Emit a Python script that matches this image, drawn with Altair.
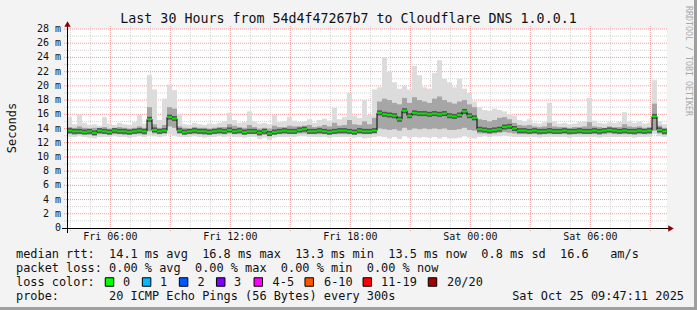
import altair as alt
import pandas as pd

# ---------------- data ----------------
title_text = "Last 30 Hours from 54d4f47267b7 to Cloudflare DNS 1.0.0.1"
x_tick_labels = ["Fri 06:00", "Fri 12:00", "Fri 18:00", "Sat 00:00", "Sat 06:00"]
y_tick_values = [0, 2, 4, 6, 8, 10, 12, 14, 16, 18, 20, 22, 24, 26, 28]

# median rtt per 15-minute bin (ms), 120 bins over 30 hours
median_ms = [
    13.7, 13.6, 13.6, 13.5, 13.6, 13.4, 13.7, 13.6, 13.5, 13.7, 13.6, 13.6, 13.5, 13.6, 13.7, 13.6,
    15.3, 13.8, 13.6, 13.7, 15.6, 15.4, 13.7,
    13.5, 13.6, 13.7, 13.6, 13.6, 13.5, 13.6, 13.7, 13.6, 13.8,
    13.6, 13.7, 13.5, 13.6, 13.6, 13.4, 13.6, 13.3, 13.5, 13.6,
    13.7, 13.6, 13.6, 13.8, 13.9, 13.6, 13.6, 13.7, 13.6, 13.5,
    13.6, 13.7, 13.7, 13.6, 13.5, 13.7, 13.6, 13.6, 13.7,
    16.2, 16.0, 15.9, 15.8, 15.3, 16.5, 15.8, 16.2, 16.1, 16.1,
    16.0, 16.1, 16.0, 16.1, 15.8, 15.7, 15.9, 16.4, 15.8, 15.5,
    13.9, 13.8, 13.7, 13.8, 13.9, 14.2, 14.3, 14.0, 13.7, 13.7,
    13.6, 13.7, 13.6, 13.6, 13.7, 13.6, 13.6, 13.7, 13.6, 13.6,
    13.7, 13.6, 13.6, 13.7, 13.6, 13.7, 13.8, 13.7, 13.6, 13.7,
    13.6, 13.6, 13.7, 13.6, 13.7, 15.7, 13.8, 13.6,
]
smoke_hi = [
    15.6, 14.6, 16.0, 14.8, 14.5, 14.6, 14.4, 15.6, 14.7, 14.5, 14.8, 14.6, 14.5, 14.9, 15.9, 14.7,
    21.5, 19.5, 15.2, 18.2, 20.2, 19.4, 16.0,
    14.6, 14.5, 14.8, 14.6, 14.5, 14.7, 14.6, 14.8, 15.0, 16.2,
    15.2, 14.8, 14.9, 16.4, 15.0, 14.7, 14.8, 14.6, 15.9, 14.9,
    15.0, 15.6, 15.1, 14.9, 15.0, 15.3, 14.8, 15.2, 15.4, 15.1,
    16.9, 15.3, 15.6, 19.0, 15.8, 15.5, 18.0, 15.9, 19.5,
    19.8, 24.0, 22.0, 20.5, 19.6, 20.0, 19.5, 22.8, 21.5, 19.8,
    19.6, 21.8, 23.6, 21.0, 20.5, 19.8, 21.0, 19.6, 19.0, 17.8,
    17.0, 16.6, 16.5, 16.8, 16.6, 16.4, 16.0, 15.8, 15.2, 15.0,
    15.3, 14.8, 14.7, 14.9, 17.6, 15.0, 14.7, 14.8, 14.6, 14.7,
    14.9, 15.0, 18.3, 15.1, 14.8, 14.7, 14.9, 14.8, 14.9, 16.3,
    15.0, 14.8, 15.0, 14.7, 14.8, 20.8, 15.0, 14.6,
]
smoke_q3 = [
    14.2, 14.1, 14.3, 14.1, 14.0, 14.1, 14.1, 14.2, 14.0, 14.1, 14.2, 14.1, 14.0, 14.1, 14.3, 14.1,
    17.0, 14.6, 14.1, 14.5, 17.0, 16.8, 14.3,
    14.1, 14.0, 14.2, 14.1, 14.1, 14.0, 14.1, 14.2, 14.2, 14.6,
    14.4, 14.2, 14.1, 14.5, 14.2, 14.0, 14.1, 14.0, 14.4, 14.2,
    14.2, 14.4, 14.3, 14.3, 14.4, 14.5, 14.2, 14.3, 14.5, 14.3,
    14.8, 14.4, 14.5, 15.2, 14.6, 14.5, 15.0, 14.6, 15.5,
    17.8, 18.2, 18.0, 17.6, 17.4, 18.3, 17.6, 18.4, 18.0, 17.8,
    17.6, 18.2, 18.5, 18.0, 17.7, 17.5, 17.8, 18.0, 17.4, 17.0,
    15.3, 15.2, 15.0, 15.2, 15.5, 15.6, 15.3, 14.8, 14.5, 14.4,
    14.5, 14.3, 14.2, 14.3, 14.8, 14.3, 14.2, 14.2, 14.1, 14.2,
    14.2, 14.3, 14.9, 14.3, 14.2, 14.1, 14.3, 14.2, 14.2, 14.6,
    14.3, 14.2, 14.3, 14.1, 14.2, 17.5, 14.4, 14.1,
]
smoke_q1 = [
    13.2, 13.1, 13.2, 13.2, 13.1, 13.0, 13.2, 13.2, 13.1, 13.2, 13.2, 13.1, 13.1, 13.2, 13.2, 13.1,
    13.6, 13.3, 13.2, 13.3, 14.3, 14.1, 13.3,
    13.1, 13.2, 13.2, 13.2, 13.1, 13.1, 13.2, 13.2, 13.2, 13.3,
    13.2, 13.2, 13.1, 13.2, 13.2, 13.0, 13.1, 12.9, 13.1, 13.2,
    13.2, 13.2, 13.2, 13.3, 13.3, 13.2, 13.2, 13.2, 13.2, 13.1,
    13.2, 13.2, 13.2, 13.2, 13.1, 13.2, 13.2, 13.2, 13.3,
    14.0, 13.9, 13.8, 13.9, 13.7, 14.1, 13.8, 14.0, 13.9, 14.0,
    13.9, 14.0, 13.9, 14.0, 13.8, 13.8, 13.9, 14.1, 13.8, 13.7,
    13.3, 13.3, 13.2, 13.3, 13.4, 13.5, 13.4, 13.3, 13.2, 13.2,
    13.2, 13.2, 13.1, 13.2, 13.2, 13.2, 13.2, 13.2, 13.1, 13.2,
    13.2, 13.2, 13.2, 13.2, 13.1, 13.2, 13.3, 13.2, 13.2, 13.2,
    13.2, 13.1, 13.2, 13.2, 13.2, 13.7, 13.3, 13.1,
]
smoke_lo = [
    12.8, 12.8, 12.9, 12.8, 12.7, 12.6, 12.8, 12.8, 12.8, 12.9, 12.8, 12.8, 12.7, 12.8, 12.9, 12.8,
    13.0, 12.9, 12.8, 12.9, 13.2, 13.0, 12.8,
    12.8, 12.8, 12.9, 12.8, 12.7, 12.8, 12.8, 12.9, 12.8, 12.9,
    12.8, 12.8, 12.7, 12.8, 12.8, 12.5, 12.7, 12.4, 12.7, 12.8,
    12.8, 12.8, 12.8, 12.9, 12.9, 12.8, 12.8, 12.8, 12.8, 12.7,
    12.8, 12.8, 12.8, 12.8, 12.7, 12.8, 12.6, 12.7, 12.8,
    12.9, 12.8, 12.6, 12.8, 12.5, 12.9, 12.7, 12.8, 12.7, 12.8,
    12.7, 12.8, 12.6, 12.8, 12.6, 12.6, 12.7, 12.9, 12.7, 12.6,
    12.8, 12.9, 12.8, 12.9, 12.9, 13.0, 12.9, 12.8, 12.8, 12.8,
    12.8, 12.8, 12.7, 12.8, 12.8, 12.8, 12.8, 12.8, 12.7, 12.8,
    12.8, 12.8, 12.8, 12.8, 12.7, 12.8, 12.8, 12.8, 12.8, 12.8,
    12.8, 12.7, 12.8, 12.8, 12.8, 13.2, 12.9, 12.8,
]

legend_line1 = "median rtt:  14.1 ms avg  16.8 ms max  13.3 ms min  13.5 ms now  0.8 ms sd  16.6   am/s"
legend_line2 = "packet loss: 0.00 % avg  0.00 % max  0.00 % min  0.00 % now"
legend_line3 = "loss color:"
legend_line4 = "probe:       20 ICMP Echo Pings (56 Bytes) every 300s"
timestamp_text = "Sat Oct 25 09:47:11 2025"
watermark_text = "RRDTOOL / TOBI OETIKER"
loss_labels = ["0", "1", "2", "3", "4-5", "6-10", "11-19", "20/20"]
loss_colors = ["#00ff00", "#00b8ff", "#0059ff", "#7e00ff", "#ff00ff", "#ff5500", "#ff0000", "#a10000"]

# ---------------- layout ----------------
W, H = 600, 199
MONO = "DejaVu Sans Mono"
BIN_H = 0.25                      # hours per bin
first_hour = 1.0 / 6.0            # 04:00 relative to the 03:50 start
minor_hours = [first_hour + k for k in range(30)]
major_hours = minor_hours[2::3]
label_hours = major_hours[0::2]
box_x = [42.5, 79.6, 116.6, 153.7, 191.3, 242.2, 300.3, 365.5]
lab_x = [56, 93, 130.5, 167, 205.6, 257, 314, 380]

def nb(s):
    return s.replace(" ", "\u00a0")

n = len(median_ms)
t0 = [i * BIN_H for i in range(n)]
df = pd.DataFrame({
    "t0": t0,
    "t1": [t + BIN_H for t in t0],
    "med": median_ms,
    "prev": [median_ms[0]] + median_ms[:-1],
    "hi": smoke_hi, "q3": smoke_q3, "q1": smoke_q1, "lo": smoke_lo,
})

xs = alt.Scale(domain=[0, 30], nice=False, zero=False)
ys = alt.Scale(domain=[0, 28], nice=False, zero=False)
one = pd.DataFrame({"k": [0]})

# grid
minor_v = [h for h in minor_hours if h not in major_hours]
g_minor_v = alt.Chart(pd.DataFrame({"h": minor_v})).mark_rule(
    color="#d2d2d2", strokeDash=[1, 1], strokeWidth=1).encode(
    x=alt.X("h:Q", scale=xs, axis=None), y=alt.value(-3), y2=alt.value(H + 3))
g_major_v = alt.Chart(pd.DataFrame({"h": major_hours})).mark_rule(
    color="#f29a9a", strokeDash=[1, 1], strokeWidth=1).encode(
    x=alt.X("h:Q", scale=xs, axis=None), y=alt.value(-3), y2=alt.value(H + 3))
g_minor_h = alt.Chart(pd.DataFrame({"v": [v + 1 for v in y_tick_values[:-1]]})).mark_rule(
    color="#d2d2d2", strokeDash=[1, 1], strokeWidth=1).encode(
    y=alt.Y("v:Q", scale=ys, axis=None), x=alt.value(-3), x2=alt.value(W + 1))
g_major_h = alt.Chart(pd.DataFrame({"v": y_tick_values[1:]})).mark_rule(
    color="#f29a9a", strokeDash=[1, 1], strokeWidth=1).encode(
    y=alt.Y("v:Q", scale=ys, axis=None), x=alt.value(-3), x2=alt.value(W + 1))

base = alt.Chart(df)
band_outer = base.mark_rect(color="#dcdcdc").encode(
    x=alt.X("t0:Q", scale=xs, axis=None), x2="t1:Q",
    y=alt.Y("lo:Q", scale=ys, axis=None), y2="hi:Q")
band_inner = base.mark_rect(color="#a6a6a6").encode(
    x=alt.X("t0:Q", scale=xs, axis=None), x2="t1:Q",
    y=alt.Y("q1:Q", scale=ys, axis=None), y2="q3:Q")
core = base.mark_rule(color="#555555", strokeWidth=5).encode(
    x=alt.X("t0:Q", scale=xs, axis=None), x2="t1:Q",
    y=alt.Y("med:Q", scale=ys, axis=None))
joins = base.mark_rule(color="#000000", strokeWidth=1).encode(
    x=alt.X("t0:Q", scale=xs, axis=None),
    y=alt.Y("prev:Q", scale=ys, axis=None), y2="med:Q")
green = base.mark_rule(color="#00e600", strokeWidth=2).encode(
    x=alt.X("t0:Q", scale=xs, axis=None), x2="t1:Q",
    y=alt.Y("med:Q", scale=ys, axis=None))

# axes
x_axis = alt.Chart(one).mark_rule(color="black", strokeWidth=1).encode(
    x=alt.value(-5), x2=alt.value(W + 2), y=alt.value(H + 0.5))
y_axis = alt.Chart(one).mark_rule(color="black", strokeWidth=1).encode(
    x=alt.value(0.5), y=alt.value(H + 5), y2=alt.value(-3))
x_arrow = alt.Chart(one).mark_point(shape="triangle-right", filled=True, size=40,
                                    color="#8b0000", opacity=1).encode(
    x=alt.value(W + 4), y=alt.value(H + 0.5))
y_arrow = alt.Chart(one).mark_point(shape="triangle-up", filled=True, size=40,
                                    color="#8b0000", opacity=1).encode(
    x=alt.value(0.5), y=alt.value(-5))

y_labels = alt.Chart(pd.DataFrame({
    "v": y_tick_values,
    "t": [("0\u00a0\u00a0" if v == 0 else f"{v}\u00a0m") for v in y_tick_values],
})).mark_text(font=MONO, fontSize=10, align="right", baseline="middle", color="#111111").encode(
    y=alt.Y("v:Q", scale=ys, axis=None), x=alt.value(-6), text="t:N")
x_labels = alt.Chart(pd.DataFrame({"h": label_hours, "t": [nb(s) for s in x_tick_labels]})).mark_text(
    font=MONO, fontSize=10, align="center", baseline="middle", color="#111111").encode(
    x=alt.X("h:Q", scale=xs, axis=None), y=alt.value(H + 9), text="t:N")

def txt(s, x, y, size=12, align="left", angle=0, color="#111111"):
    return alt.Chart(one).mark_text(font=MONO, fontSize=size, align=align, baseline="middle",
                                    angle=angle, color=color).encode(
        x=alt.value(x), y=alt.value(y), text=alt.value(nb(s)))

title = txt(title_text, 281.5, -10, size=13.3, align="center")
ytitle = txt("Seconds", -55, 99, size=12, align="center", angle=270)
l1 = txt(legend_line1, -51, 225, size=11.9)
l2 = txt(legend_line2, -51, 239, size=11.9)
l3 = txt(legend_line3, -51, 253, size=11.9)
l4 = txt(legend_line4, -51, 267, size=11.9)
ts = txt(timestamp_text, 617, 267, size=11.9, align="right")
wm = txt(watermark_text, 621, -23, size=8.3, angle=90, color="#aaaaaa")

loss_df = pd.DataFrame({"lab": loss_labels, "col": loss_colors, "bx": box_x, "lx": lab_x})
loss_boxes = alt.Chart(loss_df).mark_square(size=72, opacity=1, stroke="black", strokeWidth=1).encode(
    x=alt.X("bx:Q", scale=None), y=alt.value(253),
    fill=alt.Fill("col:N", scale=None))
loss_text = alt.Chart(loss_df).mark_text(font=MONO, fontSize=11.9, align="left", baseline="middle",
                                         color="#111111").encode(
    x=alt.X("lx:Q", scale=None), y=alt.value(253), text="lab:N")

# frame shading
frame_r = alt.Chart(one).mark_rect(color="#9e9e9e").encode(
    x=alt.value(627), x2=alt.value(630), y=alt.value(-29), y2=alt.value(281))
frame_b = alt.Chart(one).mark_rect(color="#9e9e9e").encode(
    x=alt.value(-67), x2=alt.value(630), y=alt.value(278), y2=alt.value(281))

chart = alt.layer(
    g_minor_v, g_minor_h, g_major_v, g_major_h,
    band_outer, band_inner, core, joins, green,
    x_axis, y_axis, x_arrow, y_arrow,
    y_labels, x_labels, title, ytitle, l1, l2, l3, l4, ts, wm,
    loss_boxes, loss_text, frame_r, frame_b,
).properties(
    width=W, height=H,
    autosize=alt.AutoSizeParams(type="none"),
    padding={"left": 67, "top": 29, "right": 30, "bottom": 82},
    background="#f3f3f3",
).configure_view(strokeWidth=0, fill="white")

chart.save("out.html", embed_options={"renderer": "svg", "actions": False})
